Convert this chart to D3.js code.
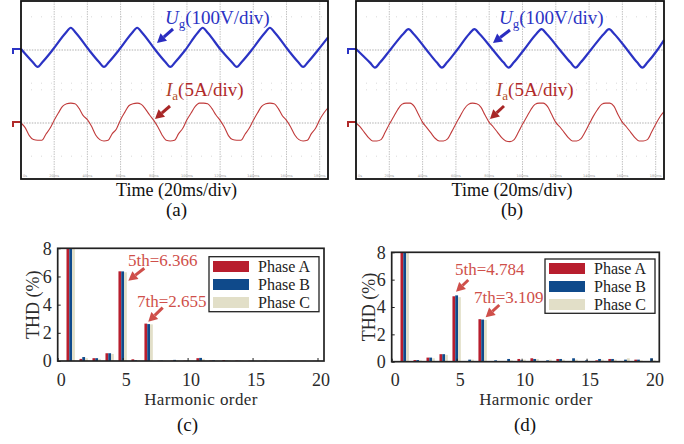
<!DOCTYPE html>
<html lang="en">
<head>
<meta charset="utf-8">
<title>Grid voltage, phase current and harmonic spectra</title>
<script src="https://cdn.jsdelivr.net/npm/d3@7/dist/d3.min.js"></script>
<style>
  body { margin: 0; background: #fff; }
  svg { display: block; font-family: "Liberation Serif", "Times New Roman", serif; }
</style>
</head>
<body>
<script>
// ---- scope traces (time in ms, 20 ms/div) ----
// grid voltage key points, volts (100 V/div)
var ugLeftT = [0, 7, 10, 13, 19, 27, 30, 33, 41, 47, 50, 53, 59, 67, 70, 73, 81, 87, 90, 93, 99,
               106.5, 109.5, 112.5, 120.5, 127, 130, 133, 139, 147, 150, 153, 161, 167, 170, 173, 179, 185];
var ugLeftV = [3, -36, -51, -36, 0, 52, 67, 52, 0, -36, -51, -36, 0, 52, 67, 52, 0, -36, -51, -36, 0,
               52, 67, 52, 0, -36, -51, -36, 0, 52, 67, 52, 0, -36, -51, -36, 0, 38];
var ugRightT = [0, 8.4, 11.4, 14.4, 20.5, 28.5, 31.5, 34.5, 42.4, 48.6, 51.6, 54.6, 60.7, 68.1, 71.1, 74.1,
                82.3, 88.7, 91.7, 94.7, 100.8, 108.4, 111.4, 114.4, 122.5, 128.9, 131.9, 134.9, 141, 149,
                152, 155, 163, 169, 172, 175, 181, 185];
var ugRightV = [3, -38, -53, -38, 0, 49, 63, 49, 0, -38, -53, -38, 0, 49, 63, 49,
                0, -38, -53, -38, 0, 49, 63, 49, 0, -38, -53, -38, 0, 49,
                63, 49, 0, -38, -53, -38, 0, 30];

// phase current, sampled every 2.5 ms, amps (5 A/div)
var iaStep = 2.5;
var iaLeft = [0.0, -0.7, -1.9, -2.5, -2.6, -2.6, -1.7, -0.8, 0.4, 1.5, 2.5, 2.9, 3.0, 2.9, 2.2, 1.1,
              0.5, -0.5, -1.8, -2.5, -2.7, -2.6, -1.6, -0.9, 0.5, 1.6, 2.6, 2.9, 3.0, 2.8, 2.1, 1.2,
              0.4, -0.6, -1.8, -2.6, -2.7, -2.6, -1.6, -0.8, 0.5, 1.5, 2.5, 3.0, 3.0, 2.9, 2.2, 1.2,
              0.4, -0.6, -1.9, -2.5, -2.6, -2.6, -1.7, -0.8, 0.4, 1.5, 2.5, 2.9, 3.0, 2.9, 2.2, 1.1,
              0.4, -0.6, -1.8, -2.5, -2.7, -2.6, -1.6, -0.8, 0.5, 1.5, 2.3];
var iaRight = [0.0, -0.6, -1.4, -2.2, -2.7, -2.7, -2.5, -1.4, -0.2, 0.9, 2.0, 2.8, 3.0, 3.0, 2.5, 1.3,
               0.1, -0.7, -1.5, -2.3, -2.7, -2.7, -2.4, -1.3, -0.1, 1.0, 2.1, 2.8, 3.0, 2.9, 2.4, 1.2,
               0.1, -0.6, -1.4, -2.2, -2.7, -2.8, -2.5, -1.4, -0.2, 0.9, 2.0, 2.8, 3.0, 3.0, 2.5, 1.3,
               0.1, -0.6, -1.4, -2.2, -2.7, -2.7, -2.4, -1.4, -0.2, 1.0, 2.0, 2.8, 3.0, 3.0, 2.5, 1.2,
               0.1, -0.6, -1.4, -2.2, -2.7, -2.7, -2.5, -1.4, -0.2, 0.9, 1.7];

var scopeGridMs = [20, 40, 60, 80, 100, 120, 140, 160, 180];
var scopeTimeLabels = ["0s", "20ms", "40ms", "60ms", "80ms", "100ms", "120ms", "140ms", "160ms", "180ms"];

// ---- harmonic spectra, THD (%) ----
var harmonics = [1, 2, 3, 4, 5, 6, 7, 8, 9, 10, 11, 12, 13, 14, 15, 16, 17, 18, 19, 20];
var phaseNames = ["Phase A", "Phase B", "Phase C"];

var phaseA_c = [100, 0.15, 0.20, 0.55, 6.366, 0.12, 2.655, 0.02, 0.02, 0.02, 0.20, 0.03, 0.07, 0.03, 0.02, 0.01, 0.01, 0.01, 0.01, 0.01];
var phaseB_c = [100, 0.28, 0.20, 0.55, 6.36, 0.05, 2.62, 0.03, 0.08, 0.02, 0.22, 0.05, 0.02, 0.02, 0.02, 0.02, 0.01, 0.01, 0.01, 0.01];
var phaseC_c = [100, 0.20, 0.15, 0.50, 6.30, 0.05, 2.60, 0.02, 0.03, 0.02, 0.15, 0.02, 0.05, 0.05, 0.02, 0.01, 0.01, 0.01, 0.01, 0.01];

var phaseA_d = [100, 0.12, 0.30, 0.55, 4.784, 0.05, 3.109, 0.05, 0.05, 0.20, 0.25, 0.05, 0.20, 0.05, 0.02, 0.10, 0.20, 0.05, 0.15, 0.05];
var phaseB_d = [100, 0.12, 0.30, 0.55, 4.85, 0.15, 3.08, 0.10, 0.20, 0.10, 0.20, 0.10, 0.20, 0.25, 0.10, 0.20, 0.20, 0.15, 0.15, 0.25];
var phaseC_d = [100, 0.10, 0.25, 0.50, 4.72, 0.15, 3.05, 0.05, 0.10, 0.15, 0.20, 0.15, 0.15, 0.15, 0.05, 0.15, 0.15, 0.25, 0.10, 0.10];

var xTickVals = [0, 5, 10, 15, 20];
var yTickVals = [0, 2, 4, 6, 8];

var phaseColors = ["#b81e2e", "#0f4a8b", "#e2dfc8"];
var ugColor = "#2b33c4";
var iaColor = "#c03a3a";
var noteColor = "#cf4f4a";

var svg = d3.select("body").append("svg")
  .attr("width", 684)
  .attr("height", 444);

// arrow with filled head at (x2, y2)
function arrow(g, x1, y1, x2, y2, color, w, head) {
  var ang = Math.atan2(y2 - y1, x2 - x1);
  var bx = x2 - head * Math.cos(ang), by = y2 - head * Math.sin(ang);
  var px = -Math.sin(ang) * head * 0.55, py = Math.cos(ang) * head * 0.55;
  g.append("line")
    .attr("x1", x1).attr("y1", y1).attr("x2", bx).attr("y2", by)
    .attr("stroke", color).attr("stroke-width", w);
  g.append("path")
    .attr("d", "M" + x2 + "," + y2 + "L" + (bx + px) + "," + (by + py) + "L" + (bx - px) + "," + (by - py) + "Z")
    .attr("fill", color);
}

function drawScope(p) {
  var g = svg.append("g");
  var xT = d3.scaleLinear().domain([0, 185]).range([p.left, p.right]);
  var yU = d3.scaleLinear().domain([-100, 100]).range([50 + 33.2, 50 - 33.2]);
  var yI = d3.scaleLinear().domain([-5, 5]).range([123 + 33.2, 123 - 33.2]);

  // faint dotted rows
  [yU(100), yU(-100), yI(5), yI(-5)].forEach(function(yy) {
    g.append("line").attr("x1", p.left).attr("x2", p.right).attr("y1", yy).attr("y2", yy)
      .attr("stroke", "#cfcfcf").attr("stroke-width", 0.8).attr("stroke-dasharray", "1,9");
  });
  // vertical division lines
  g.selectAll(null).data(scopeGridMs).enter().append("line")
    .attr("x1", function(d) { return xT(d); })
    .attr("x2", function(d) { return xT(d); })
    .attr("y1", p.top).attr("y2", p.bottom)
    .attr("stroke", "#b4b4b4").attr("stroke-width", 0.8).attr("stroke-dasharray", "1.5,1");
  // channel zero lines
  [yU(0), yI(0)].forEach(function(yy) {
    g.append("line").attr("x1", p.left).attr("x2", p.right).attr("y1", yy).attr("y2", yy)
      .attr("stroke", "#a8a8a8").attr("stroke-width", 0.9).attr("stroke-dasharray", "1.5,1.2");
  });
  // tiny time labels at the bottom
  g.selectAll(null).data(scopeTimeLabels).enter().append("text")
    .attr("x", function(d, i) { return i === 0 ? xT(0) + 2 : xT(scopeGridMs[i - 1]); })
    .attr("y", p.bottom - 2.5)
    .attr("text-anchor", function(d, i) { return i === 0 ? "start" : "middle"; })
    .attr("font-size", 3.5)
    .attr("font-family", "DejaVu Sans")
    .attr("fill", "#999")
    .text(function(d) { return d; });

  // traces
  var ugLine = d3.line()
    .x(function(d) { return xT(d[0]); })
    .y(function(d) { return yU(d[1]); })
    .curve(d3.curveMonotoneX);
  var iaLine = d3.line()
    .x(function(d, i) { return xT(i * iaStep); })
    .y(function(d) { return yI(d); })
    .curve(d3.curveMonotoneX);

  g.append("path")
    .datum(p.ugT.map(function(t, i) { return [t, p.ugV[i]]; }))
    .attr("d", ugLine)
    .attr("fill", "none").attr("stroke", ugColor).attr("stroke-width", 2.2)
    .attr("stroke-linejoin", "round");
  g.append("path")
    .datum(p.ia)
    .attr("d", iaLine)
    .attr("fill", "none").attr("stroke", iaColor).attr("stroke-width", 1.1);

  // ground markers
  g.append("path")
    .attr("d", "M" + (p.left - 8) + "," + (yU(0) + 4) + "V" + (yU(0) - 1) + "H" + p.left)
    .attr("fill", "none").attr("stroke", ugColor).attr("stroke-width", 2);
  g.append("path")
    .attr("d", "M" + (p.left - 8) + "," + (yI(0) + 4) + "V" + (yI(0) - 1) + "H" + p.left)
    .attr("fill", "none").attr("stroke", "#b02a2a").attr("stroke-width", 2);

  // frame
  g.append("rect")
    .attr("x", p.left).attr("y", p.top)
    .attr("width", p.right - p.left).attr("height", p.bottom - p.top)
    .attr("fill", "none").attr("stroke", "#111").attr("stroke-width", 1.8);

  // channel labels
  var tu = g.append("text").attr("x", p.ugText[0]).attr("y", p.ugText[1])
    .attr("font-size", 19).attr("fill", ugColor);
  tu.append("tspan").attr("font-style", "italic").text("U");
  tu.append("tspan").attr("font-size", 13).attr("dy", 4).text("g");
  tu.append("tspan").attr("dy", -4).text("(100V/div)");
  arrow(g, p.ugArrow[0], p.ugArrow[1], p.ugArrow[2], p.ugArrow[3], "#2a2cc0", 3, 9);

  var ti = g.append("text").attr("x", p.iaText[0]).attr("y", p.iaText[1])
    .attr("font-size", 19).attr("fill", "#b02a2a");
  ti.append("tspan").attr("font-style", "italic").attr("fill", "#b0402a").text("I");
  ti.append("tspan").attr("font-size", 13).attr("dy", 4).attr("fill", "#b0502a").text("a");
  ti.append("tspan").attr("dy", -4).text("(5A/div)");
  arrow(g, p.iaArrow[0], p.iaArrow[1], p.iaArrow[2], p.iaArrow[3], "#a82626", 3, 9);

  var cx = (p.left + p.right) / 2 + 2;
  g.append("text").attr("x", cx).attr("y", 196).attr("text-anchor", "middle")
    .attr("font-size", 18).attr("fill", "#111").text("Time (20ms/div)");
  g.append("text").attr("x", cx).attr("y", 216).attr("text-anchor", "middle")
    .attr("font-size", 19).attr("fill", "#111").text(p.tag);
}

drawScope({left: 21, right: 328, top: 1, bottom: 179, ugT: ugLeftT, ugV: ugLeftV, ia: iaLeft,
  ugText: [165, 24], ugArrow: [173, 29, 157, 43], iaText: [166, 96], iaArrow: [170, 106, 155, 119], tag: "(a)"});
drawScope({left: 356, right: 664, top: 1, bottom: 179, ugT: ugRightT, ugV: ugRightV, ia: iaRight,
  ugText: [499, 24], ugArrow: [510, 30, 493, 43], iaText: [496, 96], iaArrow: [504, 106, 490, 119], tag: "(b)"});

// ---- spectrum panels ----
var clipId = 0;
function drawSpectrum(p) {
  var g = svg.append("g");
  var x = d3.scaleLinear().domain([0, p.xMax]).range([p.left, p.right]);
  var y = d3.scaleLinear().domain([0, 8]).range([p.bottom, p.top]);
  var barStep = 0.215;
  var bw = x(barStep) - x(0);

  clipId += 1;
  g.append("clipPath").attr("id", "clip" + clipId)
    .append("rect").attr("x", p.left).attr("y", p.top)
    .attr("width", p.right - p.left).attr("height", p.bottom - p.top);

  var bars = g.append("g").attr("clip-path", "url(#clip" + clipId + ")");
  p.series.forEach(function(vals, i) {
    bars.selectAll(null)
      .data(harmonics.map(function(h, k) { return {h: h, v: vals[k]}; }))
      .enter().append("rect")
      .attr("x", function(d) { return x(d.h + (i - 1) * barStep) - bw / 2; })
      .attr("y", function(d) { return y(d.v); })
      .attr("width", bw)
      .attr("height", function(d) { return p.bottom - y(d.v); })
      .attr("fill", phaseColors[i]);
  });

  // axes with inward ticks
  var xa = g.append("g").attr("transform", "translate(0," + p.bottom + ")")
    .call(d3.axisBottom(x).tickValues(xTickVals).tickSizeInner(-3).tickSizeOuter(0).tickPadding(12));
  var ya = g.append("g").attr("transform", "translate(" + p.left + ",0)")
    .call(d3.axisLeft(y).tickValues(yTickVals).tickSizeInner(-3).tickSizeOuter(0).tickPadding(6));
  [xa, ya].forEach(function(a) {
    a.select(".domain").remove();
    a.selectAll("line").attr("stroke", "#222");
    a.selectAll("text").attr("font-family", "Liberation Serif").attr("font-size", 18).attr("fill", "#2a2a2a");
  });
  xa.selectAll("text").attr("dx", 3);

  g.append("rect")
    .attr("x", p.left).attr("y", p.top)
    .attr("width", p.right - p.left).attr("height", p.bottom - p.top)
    .attr("fill", "none").attr("stroke", "#222").attr("stroke-width", 1.7);

  // axis titles
  g.append("text")
    .attr("transform", "translate(" + p.yTitleX + "," + (p.bottom + p.top) / 2 + ") rotate(-90)")
    .attr("text-anchor", "middle").attr("dy", "0.35em")
    .attr("font-size", 18).attr("fill", "#2a2a2a").text("THD (%)");
  g.append("text").attr("x", p.xTitleX).attr("y", 405).attr("text-anchor", "middle")
    .attr("font-size", 17).attr("letter-spacing", 0.4).attr("fill", "#2a2a2a").text("Harmonic order");
  g.append("text").attr("x", p.tagX).attr("y", 431).attr("text-anchor", "middle")
    .attr("font-size", 19).attr("fill", "#111").text(p.tag);

  // legend
  var L = p.legend;
  g.append("rect").attr("x", L.x).attr("y", L.y).attr("width", L.w).attr("height", L.h)
    .attr("fill", "#fff").attr("stroke", "#222").attr("stroke-width", 1.3);
  phaseNames.forEach(function(name, i) {
    var cy = L.rows[i];
    g.append("rect").attr("x", L.x + 4).attr("y", cy - 5.5).attr("width", 36).attr("height", 11)
      .attr("fill", phaseColors[i]);
    g.append("text").attr("x", L.x + 49).attr("y", cy + 5.5)
      .attr("font-size", 16).attr("fill", "#222").text(name);
  });

  // harmonic call-outs
  p.notes.forEach(function(n) {
    var val = p.series[0][harmonics.indexOf(n.h)];
    g.append("text").attr("x", n.tx).attr("y", n.ty)
      .attr("font-size", 17).attr("fill", noteColor)
      .text(n.h + "th=" + val.toFixed(3));
    arrow(g, n.a[0], n.a[1], n.a[2], n.a[3], noteColor, 3, 9);
  });
}

drawSpectrum({left: 57.7, right: 324, top: 248.3, bottom: 361, xMax: 20.5,
  series: [phaseA_c, phaseB_c, phaseC_c], tag: "(c)", tagX: 187.5, yTitleX: 32.5, xTitleX: 201,
  legend: {x: 209, y: 256.7, w: 110, h: 55, rows: [266.5, 284.5, 302.5]},
  notes: [{h: 5, tx: 128, ty: 265.5, a: [144.3, 268.3, 128.3, 280.7]},
          {h: 7, tx: 137, ty: 307, a: [162.7, 307.7, 148.3, 321.7]}]});
drawSpectrum({left: 391.7, right: 659.3, top: 252.3, bottom: 361.7, xMax: 20.6,
  series: [phaseA_d, phaseB_d, phaseC_d], tag: "(d)", tagX: 525, yTitleX: 369, xTitleX: 536,
  legend: {x: 545, y: 259, w: 110, h: 54.3, rows: [268.5, 286.5, 304.5]},
  notes: [{h: 5, tx: 455, ty: 275, a: [468.3, 280, 456, 291.7]},
          {h: 7, tx: 474, ty: 302.7, a: [499.3, 305, 485.7, 317.3]}]});
</script>
</body>
</html>
